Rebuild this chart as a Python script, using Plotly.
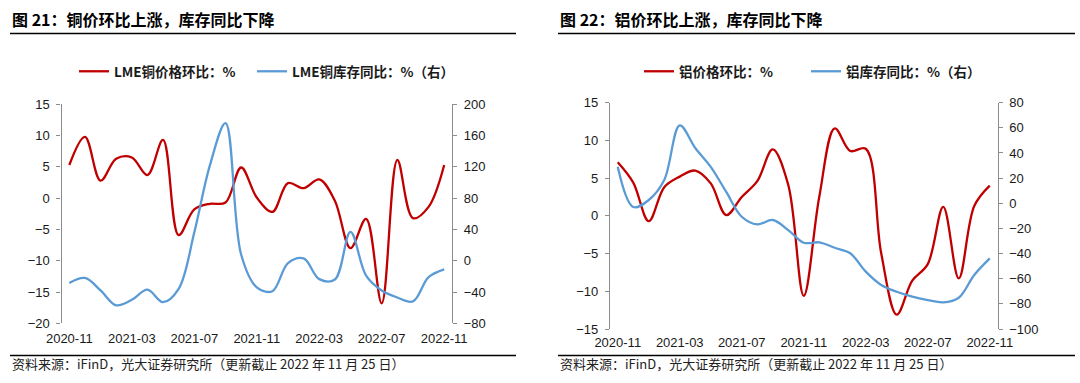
import plotly.graph_objects as go

# ---------------- data ----------------
months = ["2020-11", "2020-12", "2021-01", "2021-02", "2021-03", "2021-04", "2021-05",
          "2021-06", "2021-07", "2021-08", "2021-09", "2021-10", "2021-11", "2021-12",
          "2022-01", "2022-02", "2022-03", "2022-04", "2022-05", "2022-06", "2022-07",
          "2022-08", "2022-09", "2022-10", "2022-11"]
tick_labels = ["2020-11", "2021-03", "2021-07", "2021-11", "2022-03", "2022-07", "2022-11"]

cu_price_mom = [5.3, 9.8, 2.8, 6.3, 6.5, 3.7, 9.3, -5.9, -1.8, -0.9, -0.7, 4.9, 0.1,
                -2.2, 2.4, 1.6, 3.0, -0.4, -8.0, -3.3, -16.8, 6.1, -3.2, -1.4, 5.3]
cu_stock_yoy = [-28.5, -22, -38, -57, -50, -37, -53, -36, 36, 122, 176, 8, -34,
                -39, -3, 3, -23.5, -24, 37, -19, -38, -47, -52, -21, -11]

al_price_mom = [7.1, 4.4, -0.7, 3.8, 5.2, 6.0, 4.3, 0.1, 2.5, 4.6, 8.8, 4.1, -10.6,
                2.5, 11.6, 8.6, 8.9, -5.0, -13.1, -8.6, -6.4, 1.2, -8.3, 1.3, 4.0]
al_stock_yoy = [29, -3, 2.6, 18.5, 62, 44, 29, 9, -10.7, -16.8, -13.3, -21.3, -31.4,
                -31.1, -35.4, -39.8, -54.4, -65, -70.4, -74.3, -77, -78.8, -75.1, -57, -43.8]

# ---------------- style ----------------
RED = "#C00000"
BLUE = "#5B9BD5"
AXC = "#8C8C8C"
ZC = "#595959"
TXT = "#1a1a1a"
FONT = "Liberation Sans, Noto Sans CJK SC, sans-serif"
CJK = "Noto Sans CJK SC, sans-serif"
W, H = 1080, 383

def px2x(p):
    return p / W

def px2y(p):
    return 1 - p / H

L_dom_x = [px2x(61.5), px2x(452)]
L_dom_y = [px2y(323.3), px2y(104.3)]
R_dom_x = [px2x(610), px2x(997.5)]
R_dom_y = [px2y(329), px2y(102.7)]

L_y1 = [-20, 15]
L_y2 = [-80, 200]
R_y1 = [-15, 15]
R_y2 = [-100, 80]

fig = go.Figure()

lw = 2.3
fig.add_trace(go.Scatter(x=months, y=cu_price_mom, name="LME铜价格环比：%", mode="lines",
                         line=dict(color=RED, width=lw, shape="spline", smoothing=1.0),
                         xaxis="x", yaxis="y", legend="legend"))
fig.add_trace(go.Scatter(x=months, y=cu_stock_yoy, name="LME铜库存同比：%（右）", mode="lines",
                         line=dict(color=BLUE, width=lw, shape="spline", smoothing=1.0),
                         xaxis="x", yaxis="y2", legend="legend2"))
fig.add_trace(go.Scatter(x=months, y=al_price_mom, name="铝价格环比：%", mode="lines",
                         line=dict(color=RED, width=lw, shape="spline", smoothing=1.0),
                         xaxis="x2", yaxis="y3", legend="legend3"))
fig.add_trace(go.Scatter(x=months, y=al_stock_yoy, name="铝库存同比：%（右）", mode="lines",
                         line=dict(color=BLUE, width=lw, shape="spline", smoothing=1.0),
                         xaxis="x2", yaxis="y4", legend="legend4"))

tickfont = dict(family=FONT, size=13, color=TXT)

def label_axis(dom, anchor, standoff):
    return dict(domain=dom, anchor=anchor, type="category", range=[-0.5, len(months) - 0.5],
                tickmode="array", tickvals=tick_labels, ticktext=tick_labels, ticks="",
                showline=False, showgrid=False, zeroline=False, tickfont=tickfont,
                automargin=False, ticklabelstandoff=standoff)

def tick_axis(dom, overlay, pos):
    n = len(months)
    tv = [i - 0.5 for i in range(0, n, 4)]
    return dict(domain=dom, overlaying=overlay, anchor="free", position=pos, type="linear",
                range=[-0.5, n - 0.5], tickmode="array", tickvals=tv, ticktext=[""] * len(tv),
                ticks="outside", ticklen=4, tickwidth=1.2, tickcolor=ZC, showline=True,
                linecolor=ZC, linewidth=1.6, showgrid=False, zeroline=False, side="bottom",
                automargin=False)

def yax(dom, rng, dt, side, anchor, overlay=None):
    d = dict(domain=dom, range=rng, dtick=dt, tick0=0, side=side, anchor=anchor,
             ticks="outside", ticklen=4, tickcolor=AXC, showline=True, linecolor=AXC,
             linewidth=1.2, showgrid=False, zeroline=False, tickfont=tickfont,
             automargin=False, ticklabelstandoff=4)
    if overlay:
        d["overlaying"] = overlay
    return d

L_zero = L_dom_y[0] + (L_dom_y[1] - L_dom_y[0]) * (0 - L_y1[0]) / (L_y1[1] - L_y1[0])
R_zero = R_dom_y[0] + (R_dom_y[1] - R_dom_y[0]) * (0 - R_y1[0]) / (R_y1[1] - R_y1[0])

legend_font = dict(family=CJK, size=13.5, color=TXT, weight="bold")

def leg(xpx):
    return dict(orientation="h", x=px2x(xpx), xanchor="left", y=px2y(71.5), yanchor="middle",
                font=legend_font, bgcolor="rgba(0,0,0,0)", itemwidth=30, tracegroupgap=0)

fig.update_layout(
    template="none",
    width=W, height=H, margin=dict(l=0, r=0, t=0, b=0, autoexpand=False),
    paper_bgcolor="white", plot_bgcolor="rgba(0,0,0,0)",
    xaxis=label_axis(L_dom_x, "y", 6),
    xaxis2=label_axis(R_dom_x, "y3", 4),
    xaxis3=tick_axis(L_dom_x, "x", L_zero),
    xaxis4=tick_axis(R_dom_x, "x2", R_zero),
    yaxis=yax(L_dom_y, L_y1, 5, "left", "x"),
    yaxis2=yax(L_dom_y, L_y2, 40, "right", "x", "y"),
    yaxis3=yax(R_dom_y, R_y1, 5, "left", "x2"),
    yaxis4=yax(R_dom_y, R_y2, 20, "right", "x2", "y3"),
    legend=leg(74),
    legend2=leg(252),
    legend3=leg(639),
    legend4=leg(806),
    showlegend=True,
)

# titles, source notes and rule lines (page decoration)
annots = [
    dict(text="图 21：铜价环比上涨，库存同比下降", x=px2x(10), y=px2y(19), xanchor="left", yanchor="middle",
         font=dict(family=CJK, size=16, color="#000", weight="bold")),
    dict(text="图 22：铝价环比上涨，库存同比下降", x=px2x(558), y=px2y(19), xanchor="left", yanchor="middle",
         font=dict(family=CJK, size=16, color="#000", weight="bold")),
    dict(text="资料来源：iFinD，光大证券研究所（更新截止 2022 年 11 月 25 日）", x=px2x(10), y=px2y(363),
         xanchor="left", yanchor="middle", font=dict(family=CJK, size=13, color="#222")),
    dict(text="资料来源：iFinD，光大证券研究所（更新截止 2022 年 11 月 25 日）", x=px2x(558), y=px2y(363),
         xanchor="left", yanchor="middle", font=dict(family=CJK, size=13, color="#222")),
]
for a in annots:
    a.update(xref="paper", yref="paper", showarrow=False)
fig.update_layout(annotations=annots)

shapes = []
for (x0, x1) in [(10, 516), (558, 1075)]:
    for yy, wd in [(33.5, 1.6), (355.5, 1.4)]:
        shapes.append(dict(type="line", xref="paper", yref="paper", x0=px2x(x0), x1=px2x(x1),
                           y0=px2y(yy), y1=px2y(yy), line=dict(color="#000", width=wd)))
fig.update_layout(shapes=shapes)

fig.write_html("out.html", config={"displayModeBar": False},
               post_script="document.body.style.margin='0px';")
